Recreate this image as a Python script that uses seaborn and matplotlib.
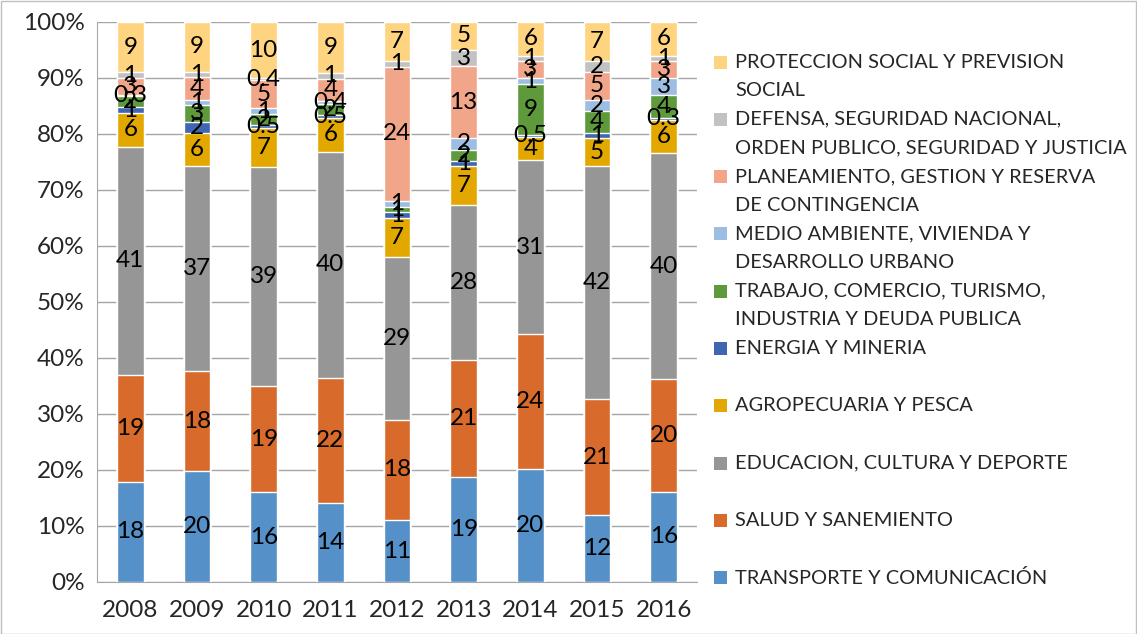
import numpy as np
import pandas as pd
import seaborn as sns
import matplotlib.pyplot as plt
from matplotlib.patches import Rectangle

years = ["2008", "2009", "2010", "2011", "2012", "2013", "2014", "2015", "2016"]

# stacking order, bottom to top
sectors = [
    "TRANSPORTE Y COMUNICACIÓN",
    "SALUD Y SANEMIENTO",
    "EDUCACION, CULTURA Y DEPORTE",
    "AGROPECUARIA Y PESCA",
    "ENERGIA Y MINERIA",
    "TRABAJO, COMERCIO, TURISMO,\nINDUSTRIA Y DEUDA PUBLICA",
    "MEDIO AMBIENTE, VIVIENDA Y\nDESARROLLO URBANO",
    "PLANEAMIENTO, GESTION Y RESERVA\nDE CONTINGENCIA",
    "DEFENSA, SEGURIDAD NACIONAL,\nORDEN PUBLICO, SEGURIDAD Y JUSTICIA",
    "PROTECCION SOCIAL Y PREVISION\nSOCIAL",
]

transporte = [18, 20, 16, 14, 11, 19, 20, 12, 16]
salud = [19, 18, 19, 22, 18, 21, 24, 21, 20]
educacion = [41, 37, 39, 40, 29, 28, 31, 42, 40]
agro = [6, 6, 7, 6, 7, 7, 4, 5, 6]
energia = [1, 2, 0.5, 0.5, 1, 1, 0.5, 1, 0.3]
trabajo = [2, 3, 2, 2, 1, 2, 9, 4, 4]
medio = [0.3, 1, 1, 0.4, 1, 2, 1, 2, 3]
planeamiento = [3, 4, 5, 4, 24, 13, 3, 5, 3]
defensa = [1, 1, 0.4, 1, 1, 3, 1, 2, 1]
proteccion = [9, 9, 10, 9, 7, 5, 6, 7, 6]

series = [transporte, salud, educacion, agro, energia, trabajo, medio,
          planeamiento, defensa, proteccion]

colors = ["#5590C8", "#D86A2C", "#969696", "#E3A800", "#3E66B1",
          "#5E9A3B", "#9DBEE2", "#F1A68A", "#C2C2C2", "#FFD480"]

vals = np.array(series, dtype=float)          # (sectors, years)
pct = vals / vals.sum(axis=0) * 100
cum = np.cumsum(pct, axis=0)

sns.set_style("white")
plt.rcParams['font.family'] = ['Lato', 'DejaVu Sans']

fig = plt.figure(figsize=(11.37, 6.34), dpi=100)
ax = fig.add_axes([97 / 1137, 1 - 582 / 634, 600 / 1137, 560 / 634])

# draw cumulative tops from highest to lowest so each layer shows its own segment
for k in range(len(sectors) - 1, -1, -1):
    df = pd.DataFrame({"year": years, "top": cum[k]})
    sns.barplot(data=df, x="year", y="top", color=colors[k], width=0.4,
                saturation=1, ax=ax, zorder=3)

for k in range(len(sectors)):
    for i in range(len(years)):
        mid = cum[k, i] - pct[k, i] / 2
        ax.text(i, mid, f"{vals[k, i]:g}", ha="center", va="center",
                fontsize=17.5, color="black", zorder=5)

ax.set_xlim(-0.5, len(years) - 0.5)
ax.set_ylim(0, 100)
ax.set_yticks(np.arange(0, 101, 10))
ax.set_yticklabels([f"{t}%" for t in range(0, 101, 10)], fontsize=17.5)
ax.set_xlabel("")
ax.set_ylabel("")
ax.tick_params(axis="x", labelsize=17.5, length=0, pad=13)
ax.set_xticks(np.arange(-0.5, len(years), 1), minor=True)
ax.tick_params(axis="x", which="minor", length=7, color="#A6A6A6", direction="out")
ax.tick_params(axis="y", length=7, color="#A6A6A6", direction="out", pad=2)
ax.grid(axis="y", color="#A6A6A6", linewidth=1, zorder=0)
ax.set_axisbelow(True)
for side in ["top", "right"]:
    ax.spines[side].set_visible(False)
for side in ["left", "bottom"]:
    ax.spines[side].set_color("#A6A6A6")

# legend drawn top-to-bottom in reverse stacking order, marker aligned to first line
W, H = 1137, 634
y0 = 62
for j, k in enumerate(range(len(sectors) - 1, -1, -1)):
    y = y0 + j * 57.3
    fig.patches.append(Rectangle((714 / W, 1 - (y + 6.5) / H), 13 / W, 13 / H,
                                 transform=fig.transFigure, facecolor=colors[k],
                                 edgecolor="none"))
    for n, line in enumerate(sectors[k].split("\n")):
        fig.text(735 / W, 1 - (y + n * 28.5) / H, line, ha="left", va="center",
                 fontsize=14.4)

fig.patches.append(Rectangle((0.5 / W, 0.5 / H), 1 - 1.5 / W, 1 - 1.5 / H,
                             transform=fig.transFigure, facecolor="none",
                             edgecolor="#BFBFBF", linewidth=1))

plt.savefig("out.png", dpi=100)
plt.close()
